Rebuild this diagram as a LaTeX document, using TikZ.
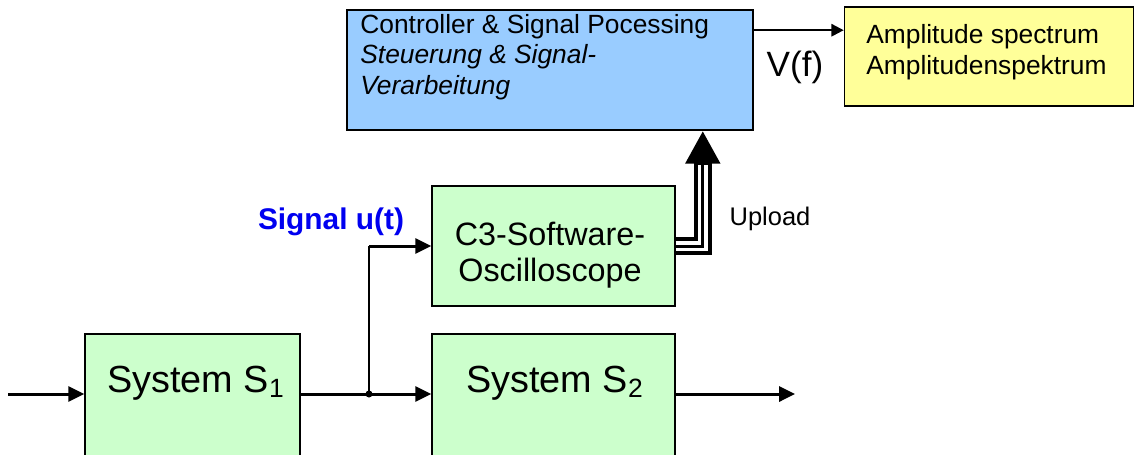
\documentclass[tikz,border=0pt]{standalone}
\usepackage{fontspec}
\setmainfont{Liberation Sans}
\usetikzlibrary{arrows.meta,calc}
\definecolor{ctrlblue}{RGB}{153,204,255}
\definecolor{ampyellow}{RGB}{255,255,153}
\definecolor{sysgreen}{RGB}{204,255,204}
\definecolor{sigblue}{RGB}{0,0,240}
\tikzset{
  box/.style={draw=black, line width=0.9pt, inner sep=0pt, anchor=center},
  txt/.style={inner sep=0pt, anchor=base west},
  ctxt/.style={inner sep=0pt, anchor=base},
  conn/.style={line width=1.7pt, -{Triangle[length=9pt,width=8.5pt]}},
  thin conn/.style={line width=1.1pt},
}
\begin{document}
\begin{tikzpicture}[x=0.02cm, y=-0.02cm]
\useasboundingbox (0,0) rectangle (1136,454);
\clip (0,0) rectangle (1136,454);
% boxes
\node[box, fill=ctrlblue, minimum width=406*0.02cm, minimum height=120*0.02cm] (ctrl) at (550,70) {};
\node[box, fill=ampyellow, minimum width=289*0.02cm, minimum height=99*0.02cm] (amp) at (989,56.5) {};
\node[box, fill=sysgreen, minimum width=243*0.02cm, minimum height=120*0.02cm] (c3) at (553.5,246) {};
\node[box, fill=sysgreen, minimum width=215*0.02cm, minimum height=140*0.02cm] (s1) at (192.5,404) {};
\node[box, fill=sysgreen, minimum width=243*0.02cm, minimum height=140*0.02cm] (s2) at (553.5,404) {};
% texts
\node[txt, font=\fontsize{15}{17}\selectfont] (t1) at (360,33) {Controller \& Signal Pocessing};
\node[txt, font=\fontsize{15}{17}\selectfont\itshape] (t2) at (360,63) {Steuerung \& Signal-};
\node[txt, font=\fontsize{15}{17}\selectfont\itshape] (t3) at (360,94) {Verarbeitung};
\node[txt, font=\fontsize{15}{17}\selectfont] (a1) at (866,43) {Amplitude spectrum};
\node[txt, font=\fontsize{15}{17}\selectfont] (a2) at (866,74) {Amplitudenspektrum};
\node[ctxt, font=\fontsize{18.4}{21}\selectfont] (c3a) at (550,245) {C3-Software-};
\node[ctxt, font=\fontsize{18.4}{21}\selectfont] (c3b) at (550,281) {Oscilloscope};
\node[ctxt, font=\fontsize{21.5}{24}\selectfont] (s1t) at (196,392) {System S\textsubscript{1}};
\node[ctxt, font=\fontsize{21.5}{24}\selectfont] (s2t) at (555,392) {System S\textsubscript{2}};
\node[ctxt, font=\fontsize{20}{24}\selectfont] (vf) at (795,76) {V(f)};
\node[ctxt, font=\fontsize{14.5}{17}\selectfont] (up) at (770,225) {Upload};
\node[ctxt, font=\fontsize{17}{20}\selectfont\bfseries, text=sigblue] (sig) at (331,229) {Signal u(t)};
% coordinates
\coordinate (in) at (8,394);
\coordinate (out) at (795,394);
\coordinate (junc) at (369,394);
\coordinate (bend) at ($(c3.east)+(27,0)$);
\coordinate (vfs) at ($(ctrl.north east)+(0,21)$);
% connectors
\draw[conn] (in) -- (s1.west |- in);
\draw[conn] (s1.east |- junc) -- (s2.west |- junc);
\draw[conn] (s2.east |- out) -- (out);
\draw[thin conn] (junc) -- (junc |- c3.west);
\draw[conn] (junc |- c3.west) -- (c3.west);
\fill (junc) circle[radius=3.5];
\draw[line width=1.2pt, -{Triangle[length=7pt,width=7pt]}] (vfs) -- (vfs -| amp.west);
% upload triple line
\draw[line width=10.2pt, line join=miter, -{Triangle[length=18.7pt,width=18.7pt]}] (c3.east) -- (bend) -- (bend |- ctrl.south);
\draw[white, line width=5.7pt, line join=miter] (c3.east) -- (bend) -- ($(bend |- ctrl.south)+(0,34)$);
\draw[black, line width=1.7pt, line join=miter] (c3.east) -- (bend) -- ($(bend |- ctrl.south)+(0,34)$);
\end{tikzpicture}
\end{document}
